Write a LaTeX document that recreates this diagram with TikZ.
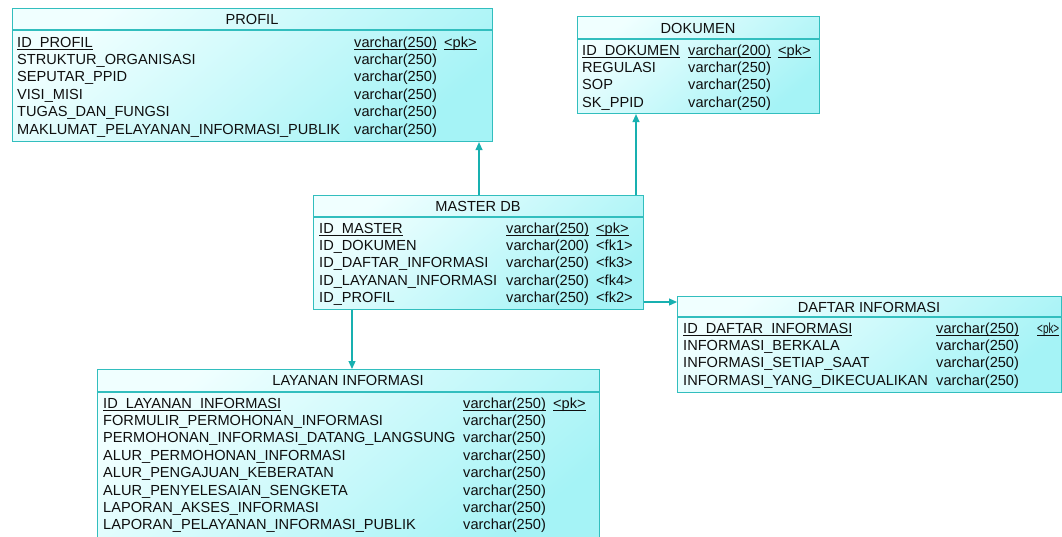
\documentclass[tikz,border=0pt]{standalone}
\usepackage{fontspec}
\setmainfont{Liberation Sans}
\usetikzlibrary{arrows.meta}
\definecolor{bordc}{RGB}{50,190,190}
\definecolor{linec}{RGB}{24,176,176}
\definecolor{fillA}{RGB}{240,255,255}
\definecolor{fillB}{RGB}{165,243,246}
\definecolor{txtc}{RGB}{15,15,15}
\newcommand{\ulx}[1]{\setbox0\hbox{#1}\rlap{\rule[-2.3pt]{\wd0}{0.8pt}}\box0}
\begin{document}
\begin{tikzpicture}[x=1pt,y=-1pt,
  tbl/.style={draw=bordc, line width=1.1pt, top color=fillA, bottom color=fillB, shading angle=40, inner sep=0pt, anchor=north west},
  sep/.style={draw=bordc, line width=1.1pt},
  txt/.style={anchor=base west, inner sep=0pt, text=txtc, font=\fontsize{14.6}{16}\selectfont},
  ttl/.style={anchor=base, inner sep=0pt, text=txtc, font=\fontsize{14.6}{16}\selectfont},
  conn/.style={draw=linec, line width=1.2pt, -{Triangle[length=8pt,width=7pt]}}]
\useasboundingbox (0,0) rectangle (1062,536);
\clip (0,0) rectangle (1062,536);

% ---------- PROFIL ----------
\node[tbl, minimum width=480pt, minimum height=133pt] (profil) at (12,8) {};
\draw[sep] (12,30) -- (492,30);
\node[ttl] (profilT) at (252,24) {PROFIL};
\node[txt] (p1a) at (17,47) {\ulx{ID\_PROFIL}};
\node[txt] (p1b) at (354,47) {\ulx{varchar(250)}};
\node[txt] (p1c) at (444,47) {\ulx{<pk>}};
\node[txt] (p2a) at (17,64.4) {STRUKTUR\_ORGANISASI};
\node[txt] (p2b) at (354,64.4) {varchar(250)};
\node[txt] (p3a) at (17,81.8) {SEPUTAR\_PPID};
\node[txt] (p3b) at (354,81.8) {varchar(250)};
\node[txt] (p4a) at (17,99.2) {VISI\_MISI};
\node[txt] (p4b) at (354,99.2) {varchar(250)};
\node[txt] (p5a) at (17,116.6) {TUGAS\_DAN\_FUNGSI};
\node[txt] (p5b) at (354,116.6) {varchar(250)};
\node[txt] (p6a) at (17,134) {MAKLUMAT\_PELAYANAN\_INFORMASI\_PUBLIK};
\node[txt] (p6b) at (354,134) {varchar(250)};

% ---------- DOKUMEN ----------
\node[tbl, minimum width=242pt, minimum height=97pt] (dok) at (577,16) {};
\draw[sep] (577,39) -- (819,39);
\node[ttl] (dokT) at (698,33) {DOKUMEN};
\node[txt] (d1a) at (582,55) {\ulx{ID\_DOKUMEN}};
\node[txt] (d1b) at (688,55) {\ulx{varchar(200)}};
\node[txt] (d1c) at (778,55) {\ulx{<pk>}};
\node[txt] (d2a) at (582,72.4) {REGULASI};
\node[txt] (d2b) at (688,72.4) {varchar(250)};
\node[txt] (d3a) at (582,89.8) {SOP};
\node[txt] (d3b) at (688,89.8) {varchar(250)};
\node[txt] (d4a) at (582,107.2) {SK\_PPID};
\node[txt] (d4b) at (688,107.2) {varchar(250)};

% ---------- MASTER DB ----------
\node[tbl, minimum width=330pt, minimum height=114pt] (master) at (313,195) {};
\draw[sep] (313,217) -- (643,217);
\node[ttl] (masterT) at (478,211) {MASTER DB};
\node[txt] (m1a) at (319,233) {\ulx{ID\_MASTER}};
\node[txt] (m1b) at (506,233) {\ulx{varchar(250)}};
\node[txt] (m1c) at (596,233) {\ulx{<pk>}};
\node[txt] (m2a) at (319,250.4) {ID\_DOKUMEN};
\node[txt] (m2b) at (506,250.4) {varchar(200)};
\node[txt] (m2c) at (596,250.4) {<fk1>};
\node[txt] (m3a) at (319,267.8) {ID\_DAFTAR\_INFORMASI};
\node[txt] (m3b) at (506,267.8) {varchar(250)};
\node[txt] (m3c) at (596,267.8) {<fk3>};
\node[txt] (m4a) at (319,285.2) {ID\_LAYANAN\_INFORMASI};
\node[txt] (m4b) at (506,285.2) {varchar(250)};
\node[txt] (m4c) at (596,285.2) {<fk4>};
\node[txt] (m5a) at (319,302.6) {ID\_PROFIL};
\node[txt] (m5b) at (506,302.6) {varchar(250)};
\node[txt] (m5c) at (596,302.6) {<fk2>};

% ---------- DAFTAR INFORMASI ----------
\node[tbl, minimum width=384pt, minimum height=96pt] (daftar) at (677,296) {};
\draw[sep] (677,317) -- (1061,317);
\node[ttl] (daftarT) at (869,312) {DAFTAR INFORMASI};
\node[txt] (f1a) at (683,333) {\ulx{ID\_DAFTAR\_INFORMASI}};
\node[txt] (f1b) at (936,333) {\ulx{varchar(250)}};
\node[txt] (f1c) at (1037,333) {\scalebox{0.68}[1]{\ulx{<pk>}}};
\node[txt] (f2a) at (683,350.4) {INFORMASI\_BERKALA};
\node[txt] (f2b) at (936,350.4) {varchar(250)};
\node[txt] (f3a) at (683,367.8) {INFORMASI\_SETIAP\_SAAT};
\node[txt] (f3b) at (936,367.8) {varchar(250)};
\node[txt] (f4a) at (683,385.2) {INFORMASI\_YANG\_DIKECUALIKAN};
\node[txt] (f4b) at (936,385.2) {varchar(250)};

% ---------- LAYANAN INFORMASI ----------
\node[tbl, minimum width=502pt, minimum height=180pt] (layanan) at (97,369) {};
\draw[sep] (97,392) -- (599,392);
\node[ttl] (layananT) at (348,385) {LAYANAN INFORMASI};
\node[txt] (l1a) at (103,408) {\ulx{ID\_LAYANAN\_INFORMASI}};
\node[txt] (l1b) at (463,408) {\ulx{varchar(250)}};
\node[txt] (l1c) at (553,408) {\ulx{<pk>}};
\node[txt] (l2a) at (103,425.4) {FORMULIR\_PERMOHONAN\_INFORMASI};
\node[txt] (l2b) at (463,425.4) {varchar(250)};
\node[txt] (l3a) at (103,442.8) {PERMOHONAN\_INFORMASI\_DATANG\_LANGSUNG};
\node[txt] (l3b) at (463,442.8) {varchar(250)};
\node[txt] (l4a) at (103,460.2) {ALUR\_PERMOHONAN\_INFORMASI};
\node[txt] (l4b) at (463,460.2) {varchar(250)};
\node[txt] (l5a) at (103,477.6) {ALUR\_PENGAJUAN\_KEBERATAN};
\node[txt] (l5b) at (463,477.6) {varchar(250)};
\node[txt] (l6a) at (103,495) {ALUR\_PENYELESAIAN\_SENGKETA};
\node[txt] (l6b) at (463,495) {varchar(250)};
\node[txt] (l7a) at (103,512.4) {LAPORAN\_AKSES\_INFORMASI};
\node[txt] (l7b) at (463,512.4) {varchar(250)};
\node[txt] (l8a) at (103,529.8) {LAPORAN\_PELAYANAN\_INFORMASI\_PUBLIK};
\node[txt] (l8b) at (463,529.8) {varchar(250)};

% ---------- connectors ----------
\coordinate (cProfil) at (479,0);
\coordinate (cDok) at (636,0);
\coordinate (cLay) at (352,0);
\coordinate (cDaf) at (0,302);
\draw[conn] (master.north -| cProfil) -- (profil.south -| cProfil);
\draw[conn] (master.north -| cDok) -- (dok.south -| cDok);
\draw[conn] (master.south -| cLay) -- (layanan.north -| cLay);
\draw[conn] (master.east |- cDaf) -- (daftar.west |- cDaf);
\end{tikzpicture}
\end{document}
